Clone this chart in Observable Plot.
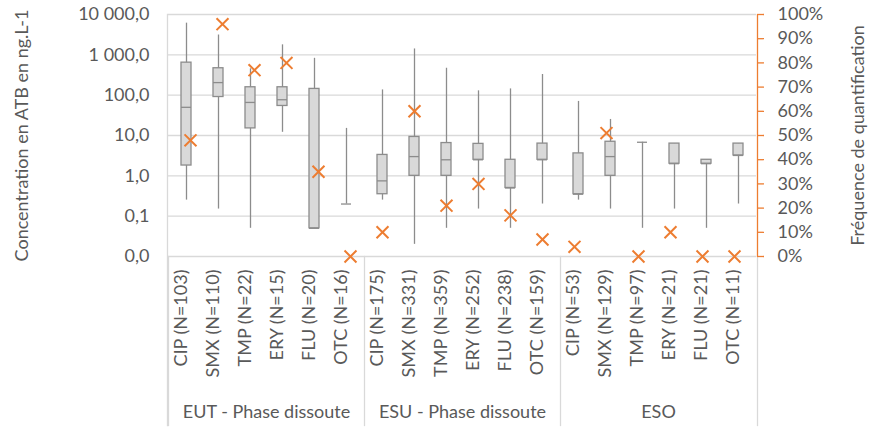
<!DOCTYPE html>
<html>
<head>
<meta charset="utf-8">
<script src="https://cdn.jsdelivr.net/npm/d3@7"></script>
<script src="https://cdn.jsdelivr.net/npm/@observablehq/plot@0.6"></script>
<style>
  body { margin: 0; background: #fff; }
  #chart { position: relative; width: 871px; height: 432px; font-family: Lato, "Open Sans", sans-serif; }
  #chart svg { position: absolute; left: 0; top: 0; overflow: visible; }
</style>
</head>
<body>
<div id="chart"></div>
<script>
// Sampling sites and antibiotics
const groups = ["EUT - Phase dissoute", "ESU - Phase dissoute", "ESO"];
const drugs = ["CIP", "SMX", "TMP", "ERY", "FLU", "OTC"];

// Number of samples per site / antibiotic
const counts = [
  [103, 110, 22, 15, 20, 16],
  [175, 331, 359, 252, 238, 159],
  [53, 129, 97, 21, 21, 11]
];

// Box-plot summaries, concentrations in ng/L
const mins = [
  [0.25, 0.15, 0.05, 12, 0.05, 0.2],
  [0.25, 0.02, 0.05, 0.15, 0.05, 0.2],
  [0.25, 0.15, 0.05, 0.15, 0.05, 0.2]
];
const q1s = [
  [1.8, 90, 15, 54, 0.05, 0.2],
  [0.35, 1.0, 1.0, 2.5, 0.5, 2.5],
  [0.35, 1.0, 6.8, 2.0, 2.0, 3.2]
];
const medians = [
  [50, 205, 66, 77, 0.05, 0.2],
  [0.75, 3.0, 2.5, 2.5, 0.5, 2.5],
  [0.35, 3.0, 6.8, 2.0, 2.0, 3.2]
];
const q3s = [
  [640, 465, 157, 157, 143, 0.2],
  [3.3, 9.2, 6.5, 6.2, 2.5, 6.3],
  [3.6, 7.0, 6.8, 6.3, 2.5, 6.3]
];
const maxs = [
  [6100, 3100, 450, 1770, 820, 15],
  [135, 1400, 465, 128, 143, 325],
  [70, 25, 6.8, 6.3, 2.5, 6.3]
];

// Quantification frequency, %
const freqs = [
  [48, 96, 77, 80, 35, 0],
  [10, 60, 21, 30, 17, 7],
  [4, 51, 0, 10, 0, 0]
];

// Axis ticks
const yTicks = [0.01, 0.1, 1, 10, 100, 1000, 10000];
const yTickLabels = ["0,0", "0,1", "1,0", "10,0", "100,0", "1 000,0", "10 000,0"];
const pctTicks = [0, 10, 20, 30, 40, 50, 60, 70, 80, 90, 100];

const rows = groups.flatMap((g, gi) => drugs.map((d, di) => ({
  group: g,
  drug: d,
  key: g + "|" + d,
  label: `${d} (N=${counts[gi][di]})`,
  min: mins[gi][di],
  q1: q1s[gi][di],
  median: medians[gi][di],
  q3: q3s[gi][di],
  max: maxs[gi][di],
  freq: freqs[gi][di]
})));

const W = 871, H = 432;
const margins = { marginTop: 14, marginRight: 114, marginBottom: 176, marginLeft: 167 };
const plotH = H - margins.marginTop - margins.marginBottom;
const below = -169;
const textColor = "#595959";
const grid = "#D9D9D9";
const boxStroke = "#8C8C8C";
const orange = "#ED7D31";
const style = { fontFamily: "Lato, 'Open Sans', sans-serif", fontSize: "18px", color: textColor, background: "transparent", overflow: "visible" };

// Concentrations: log scale, one facet per site
const main = Plot.plot({
  width: W, height: H, ...margins, style,
  fx: { domain: groups, padding: 0, label: null },
  x: { domain: drugs, padding: 0, axis: null },
  y: { type: "log", domain: [0.01, 10000], label: null },
  marks: [
    Plot.ruleY(yTicks, { stroke: grid, strokeWidth: 1.3 }),
    Plot.frame({ anchor: "left", stroke: grid, strokeWidth: 1.3, insetTop: plotH, insetBottom: below }),
    Plot.ruleX(rows, { fx: "group", x: "drug", y1: "min", y2: "max", stroke: boxStroke, strokeWidth: 1.3 }),
    Plot.barY(rows, { fx: "group", x: "drug", y1: "q1", y2: "q3", fill: grid, stroke: boxStroke, strokeWidth: 1.3, insetLeft: 11, insetRight: 11 }),
    Plot.tickY(rows, { fx: "group", x: "drug", y: "median", stroke: boxStroke, strokeWidth: 1.3, inset: 11 }),
    Plot.text(rows, { fx: "group", x: "drug", text: "label", rotate: -90, frameAnchor: "bottom", textAnchor: "end", dy: 13, fill: textColor }),
    Plot.axisFx({ anchor: "bottom", tickSize: 0, tickPadding: 149, label: null }),
    Plot.axisY({
      anchor: "left", ticks: yTicks, tickFormat: d => yTickLabels[yTicks.indexOf(d)],
      tickSize: 0, tickPadding: 19,
      label: "Concentration en ATB en ng.L-1", labelAnchor: "center", labelArrow: "none", labelOffset: 153
    })
  ]
});

// Quantification frequency: linear scale on the right
const pct = Plot.plot({
  width: W, height: H, ...margins, style,
  x: { type: "band", domain: rows.map(d => d.key), padding: 0, axis: null },
  y: { domain: [0, 100], label: null },
  marks: [
    Plot.frame({ anchor: "left", stroke: grid, strokeWidth: 1.3, insetBottom: below }),
    Plot.frame({ anchor: "right", stroke: grid, strokeWidth: 1.3, insetTop: plotH, insetBottom: below }),
    Plot.frame({ anchor: "right", stroke: orange, strokeWidth: 1.3 }),
    Plot.axisY({
      anchor: "right", ticks: pctTicks, tickFormat: d => d + "%",
      tickSize: 6, tickPadding: 14, color: textColor, stroke: orange, strokeWidth: 1.3,
      label: "Fréquence de quantification", labelAnchor: "center", labelArrow: "none", labelOffset: 106
    }),
    Plot.dot(rows, { x: "key", y: "freq", symbol: "times", r: 5.5, stroke: orange, strokeWidth: 2 })
  ]
});

const chart = document.getElementById("chart");
chart.append(main, pct);
</script>
</body>
</html>
